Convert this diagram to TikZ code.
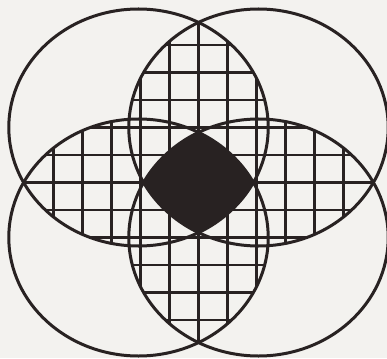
\documentclass[tikz,border=0pt]{standalone}
\definecolor{ink}{RGB}{40,34,34}
\definecolor{paper}{RGB}{243,242,239}
\begin{document}
\begin{tikzpicture}[x=1pt,y=-1pt,
  ring/.style={draw=ink, line width=3pt},
  gridline/.style={draw=ink, line width=2.6pt},
  oval/.style={x radius=129.7pt, y radius=118.5pt}]
\fill[paper] (0,0) rectangle (387,358);
\useasboundingbox (0,0) rectangle (387,358);
\coordinate (TL) at (138.5,127.5);
\coordinate (TR) at (258.5,127.5);
\coordinate (BL) at (138.5,237.5);
\coordinate (BR) at (258.5,237.5);
% hatched pairwise overlaps
\foreach \a/\b in {TL/TR,TL/BL,TR/BR,BL/BR,TL/BR,TR/BL}{
  \begin{scope}
    \clip (\a) ellipse [oval];
    \clip (\b) ellipse [oval];
    \foreach \k in {-6,...,7}
      \draw[gridline] ({198.5+29*\k},0) -- ({198.5+29*\k},358);
    \foreach \k in {-6,...,6}
      \draw[gridline] (0,{182.5+27.5*\k}) -- (387,{182.5+27.5*\k});
  \end{scope}
}
% common overlap of all four
\begin{scope}
  \clip (TL) ellipse [oval];
  \clip (TR) ellipse [oval];
  \clip (BL) ellipse [oval];
  \fill[ink] (BR) ellipse [oval];
\end{scope}
% outlines
\foreach \c in {TL,TR,BL,BR}
  \draw[ring] (\c) ellipse [oval];
\end{tikzpicture}
\end{document}
